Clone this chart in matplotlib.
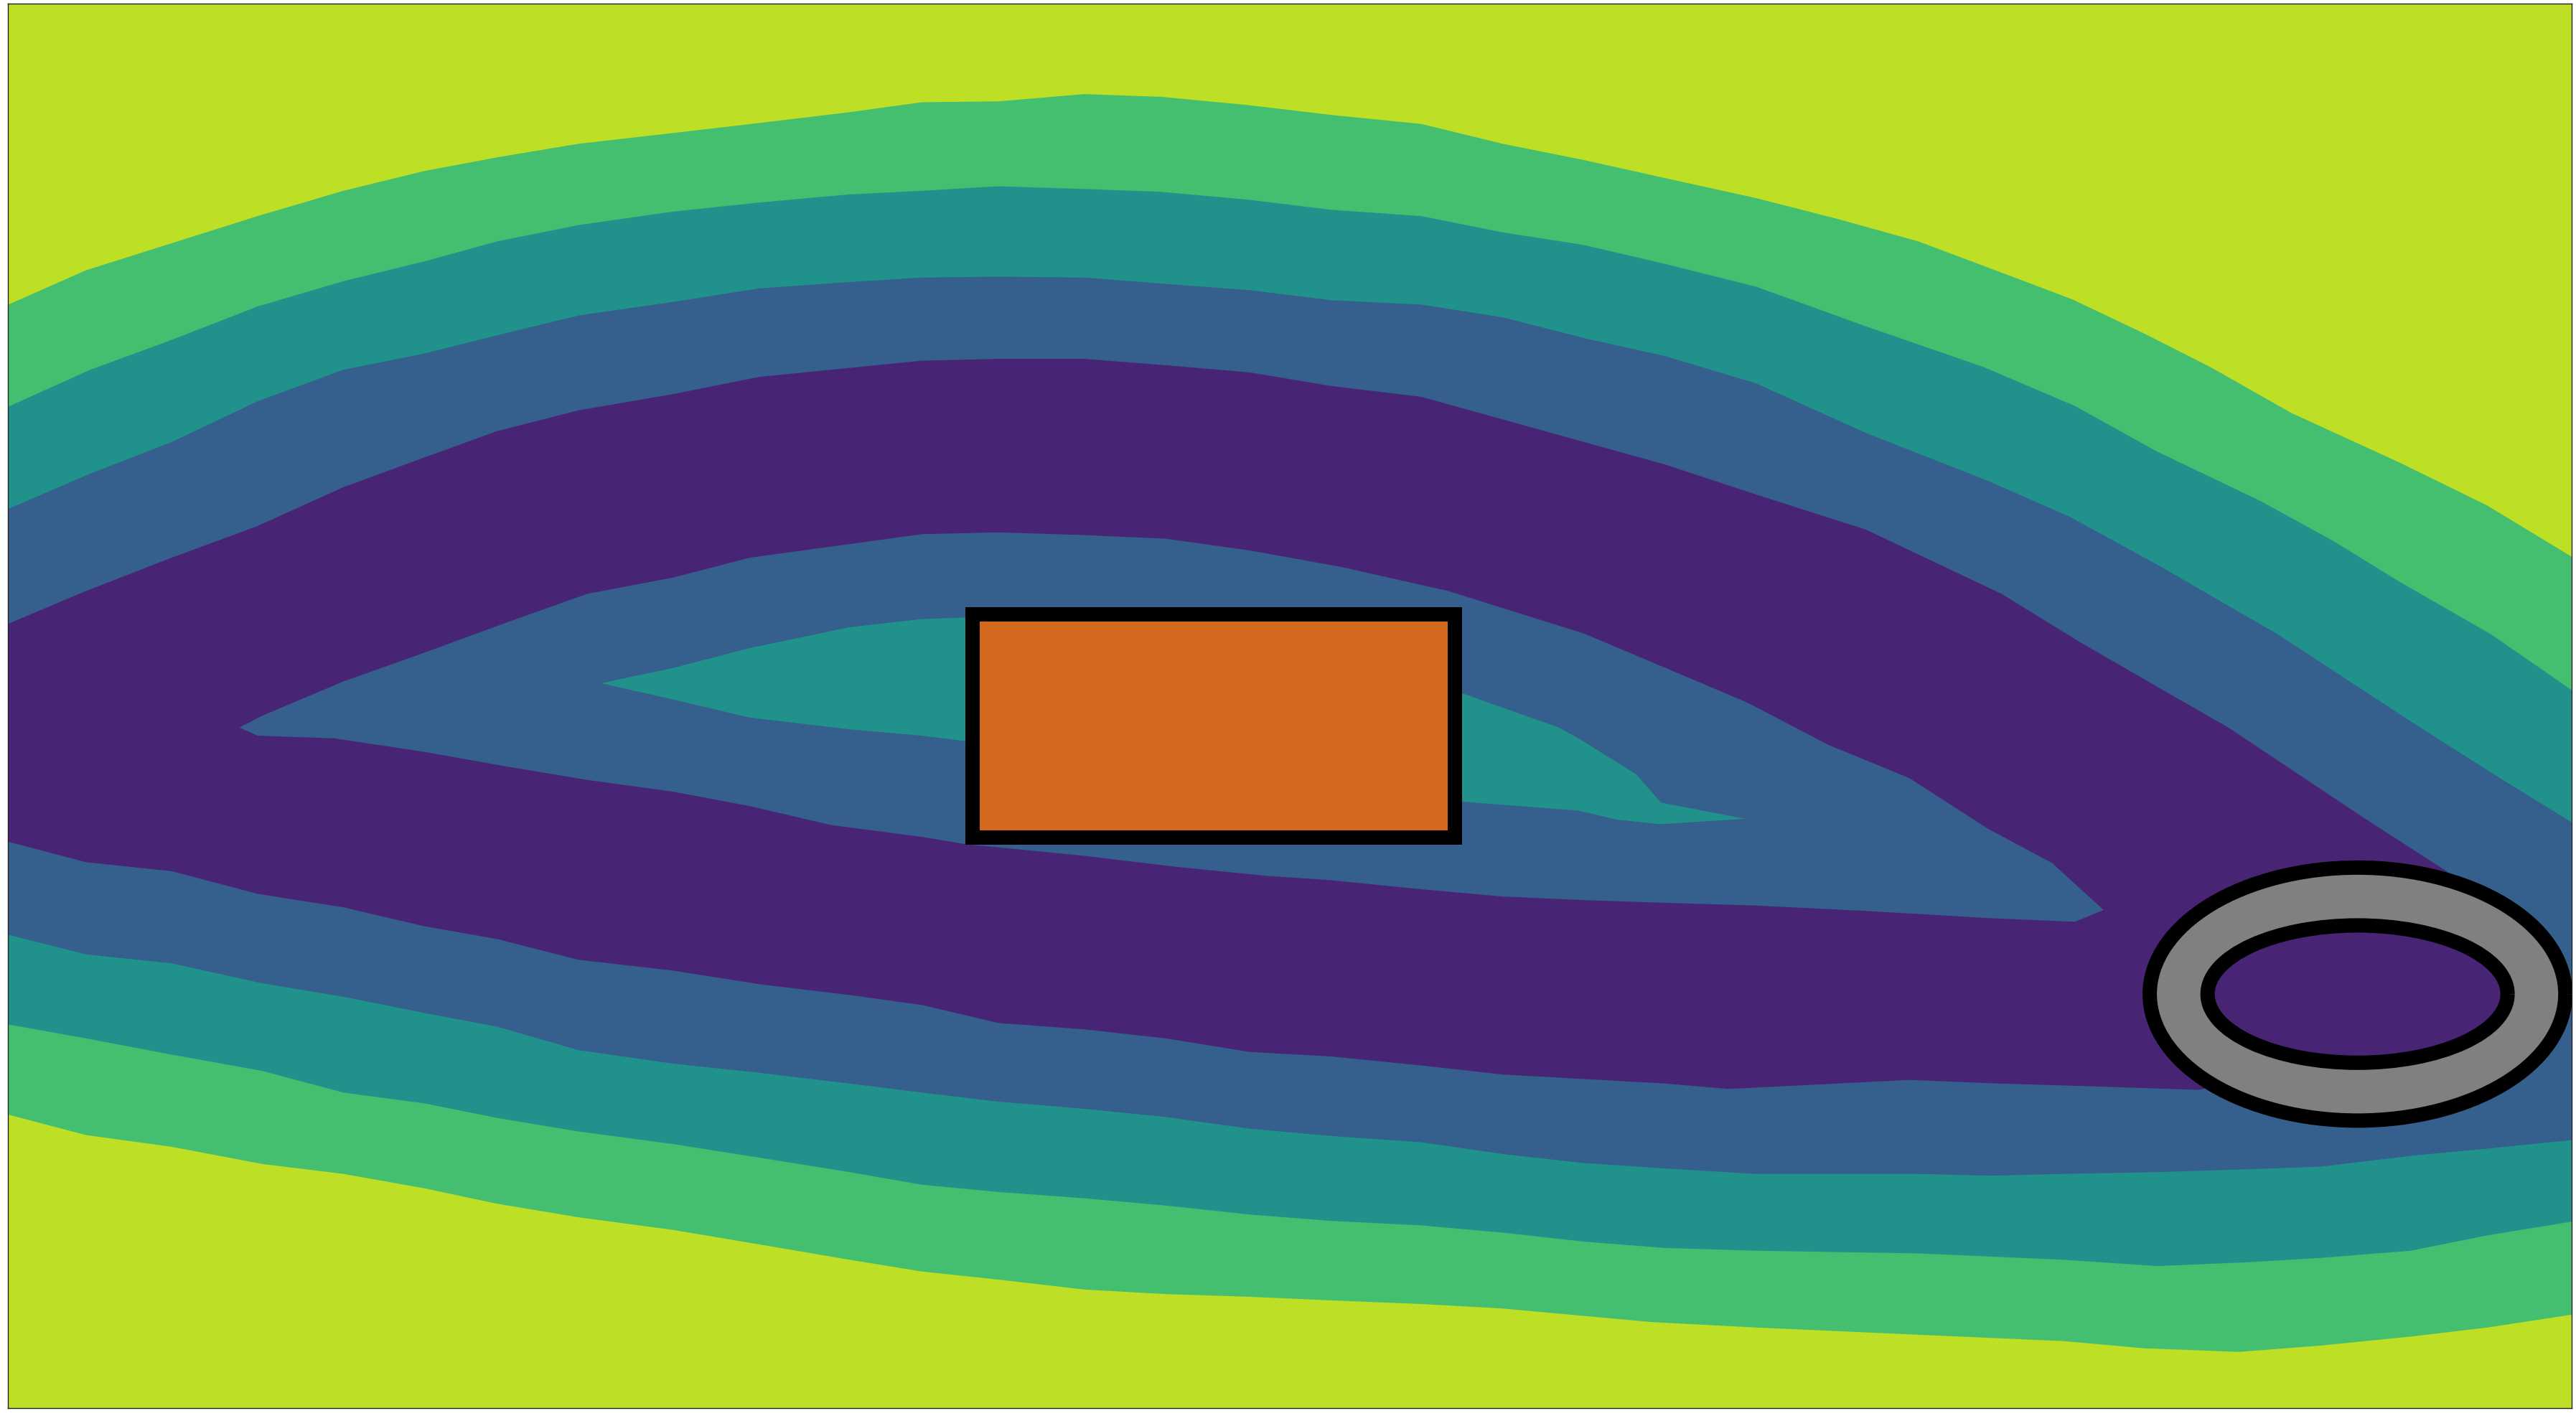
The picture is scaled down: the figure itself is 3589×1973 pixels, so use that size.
import matplotlib
matplotlib.use("Agg")
import matplotlib.pyplot as plt
from matplotlib.patches import Rectangle, Annulus

# contour boundaries, (x, y) with y measured downward
# level 4: yellow / green
lvl4_top = [(0, 342), (95, 300), (190, 270), (285, 240), (380, 212), (470, 190), (550, 175),
            (640, 160), (745, 148), (840, 137), (940, 125), (1020, 114), (1105, 113), (1200, 105),
            (1285, 108), (1380, 117), (1473, 128), (1573, 138), (1663, 160), (1753, 178),
            (1843, 198), (1943, 220), (2033, 243), (2123, 268), (2203, 298), (2293, 332),
            (2373, 370), (2446, 407), (2536, 458), (2656, 513), (2752, 560), (2851, 620)]
lvl4_bot = [(0, 1232), (95, 1257), (190, 1270), (290, 1289), (380, 1300), (470, 1316), (550, 1333),
            (640, 1348), (745, 1362), (840, 1378), (940, 1395), (1020, 1408), (1105, 1417),
            (1200, 1428), (1290, 1433), (1383, 1436), (1473, 1440), (1573, 1444), (1663, 1449),
            (1828, 1464), (1943, 1470), (2123, 1478), (2283, 1485), (2373, 1493), (2478, 1497),
            (2568, 1490), (2668, 1480), (2753, 1470), (2851, 1455)]

# level 3: green / teal
lvl3_top = [(0, 455), (100, 410), (190, 377), (285, 340), (380, 312), (470, 290), (550, 268),
            (640, 250), (745, 235), (840, 225), (940, 216), (1020, 212), (1105, 207), (1200, 210),
            (1283, 213), (1383, 222), (1473, 233), (1573, 240), (1663, 258), (1753, 272),
            (1843, 293), (1943, 318), (2065, 362), (2195, 407), (2296, 450), (2386, 500),
            (2501, 555), (2583, 600), (2656, 645), (2757, 703), (2851, 768)]
lvl3_bot = [(0, 1133), (95, 1150), (190, 1168), (290, 1186), (380, 1210), (470, 1222), (550, 1238),
            (640, 1253), (745, 1267), (840, 1282), (940, 1298), (1020, 1312), (1105, 1320),
            (1200, 1327), (1290, 1335), (1383, 1345), (1473, 1352), (1573, 1357), (1663, 1365),
            (1753, 1375), (1843, 1382), (1943, 1385), (2123, 1388), (2283, 1395), (2388, 1402),
            (2483, 1398), (2568, 1393), (2668, 1385), (2753, 1368), (2851, 1352)]

# level 2: teal / blue
lvl2_top = [(0, 568), (100, 525), (190, 490), (285, 445), (380, 410), (470, 392), (550, 372),
            (640, 350), (745, 335), (840, 320), (940, 313), (1020, 308), (1105, 307), (1200, 308),
            (1290, 315), (1383, 322), (1473, 333), (1573, 338), (1663, 352), (1753, 375),
            (1843, 395), (1943, 425), (2065, 480), (2200, 533), (2291, 573), (2386, 625),
            (2521, 703), (2666, 798), (2757, 856), (2851, 914)]
lvl2_bot = [(0, 1033), (95, 1057), (190, 1067), (290, 1089), (380, 1104), (470, 1122), (550, 1137),
            (640, 1163), (745, 1178), (840, 1188), (940, 1200), (1020, 1210), (1105, 1220),
            (1200, 1228), (1290, 1237), (1383, 1250), (1473, 1258), (1573, 1265), (1663, 1278),
            (1753, 1288), (1843, 1294), (1943, 1300), (2123, 1300), (2203, 1302), (2283, 1300),
            (2388, 1298), (2483, 1295), (2568, 1292), (2668, 1280), (2753, 1272), (2851, 1262)]

# level 1: blue / purple (runs under the ring on the right)
lvl1_top = [(0, 695), (95, 655), (190, 618), (285, 583), (380, 540), (470, 507), (550, 478),
            (640, 455), (745, 437), (840, 418), (940, 408), (1020, 400), (1105, 398), (1200, 398),
            (1290, 405), (1383, 413), (1473, 428), (1573, 440), (1663, 465), (1753, 490),
            (1843, 515), (1943, 548), (2065, 587), (2215, 658), (2301, 711), (2391, 763),
            (2466, 806), (2616, 906), (2706, 964), (2770, 1010), (2810, 1101), (2770, 1195),
            (2609, 1218), (2470, 1200)]
lvl1_bot = [(0, 930), (95, 955), (190, 965), (285, 990), (380, 1005), (470, 1026), (550, 1040),
            (640, 1063), (745, 1075), (840, 1090), (940, 1102), (1020, 1113), (1105, 1133),
            (1200, 1140), (1290, 1150), (1383, 1165), (1473, 1170), (1573, 1180), (1663, 1190),
            (1753, 1195), (1843, 1200), (1913, 1206), (2113, 1196), (2213, 1200), (2313, 1203),
            (2433, 1207)]

# blue pocket inside the purple band
pocket_lvl1 = [(265, 806), (290, 793), (380, 755), (470, 723), (560, 690), (650, 658), (745, 640),
               (830, 618), (940, 603), (1020, 592), (1105, 590), (1200, 593), (1290, 597),
               (1383, 610), (1483, 628), (1603, 655), (1753, 702), (1843, 740), (1933, 778),
               (2023, 825), (2113, 862), (2200, 918), (2271, 956), (2328, 1008), (2296, 1021),
               (2203, 1017), (2065, 1009), (1943, 1003), (1843, 1000), (1753, 997), (1663, 993),
               (1573, 985), (1473, 975), (1400, 970), (1300, 960), (1200, 948), (1068, 935),
               (1020, 927), (920, 914), (830, 893), (745, 877), (650, 864), (560, 849),
               (470, 833), (370, 818), (285, 815)]

# teal pocket around the block
pocket_lvl2 = [(665, 757), (745, 740), (830, 718), (940, 695), (1020, 686), (1076, 684),
               (1600, 700), (1618, 768), (1725, 806), (1747, 818), (1811, 858), (1838, 889),
               (1931, 907), (1838, 913), (1790, 908), (1747, 898), (1618, 888), (1600, 880),
               (1076, 822), (1020, 815), (940, 808), (830, 795), (745, 775)]

# obstacles
block_xy, block_w, block_h = (1076, 681), 534, 247
ring_center, ring_r, ring_width = (2609, 1101), (230, 140), 64

x_lim = (8.7, 2846.0)
y_lim = (1559.2, 4.8)

cmap = plt.get_cmap('viridis')
band_colors = [cmap(v) for v in (0.1, 0.3, 0.5, 0.7, 0.9)]


def fill_band(ax, top, bot, color):
    pts = top + bot[::-1]
    ax.fill([p[0] for p in pts], [p[1] for p in pts], color=color, lw=0)


fig = plt.figure(figsize=(35.89, 19.74), dpi=100)
ax = fig.add_axes([11 / 3589, 11 / 1974, 3572 / 3589, 1957 / 1974])
ax.set_facecolor(band_colors[4])

fill_band(ax, lvl4_top, lvl4_bot, band_colors[3])
fill_band(ax, lvl3_top, lvl3_bot, band_colors[2])
fill_band(ax, lvl2_top, lvl2_bot, band_colors[1])
fill_band(ax, lvl1_top, lvl1_bot, band_colors[0])
ax.fill([p[0] for p in pocket_lvl1], [p[1] for p in pocket_lvl1], color=band_colors[1], lw=0)
ax.fill([p[0] for p in pocket_lvl2], [p[1] for p in pocket_lvl2], color=band_colors[2], lw=0)

ax.add_patch(Rectangle(block_xy, block_w, block_h, facecolor='chocolate',
                       edgecolor='black', lw=14.4, zorder=5))
ax.add_patch(Annulus(ring_center, ring_r, ring_width, facecolor='gray',
                     edgecolor='black', lw=14.4, zorder=5))

ax.set_xlim(*x_lim)
ax.set_ylim(*y_lim)
ax.set_xticks([])
ax.set_yticks([])
for s in ax.spines.values():
    s.set_linewidth(1.0)
    s.set_color('#222222')

fig.savefig('out.png', dpi=100)
